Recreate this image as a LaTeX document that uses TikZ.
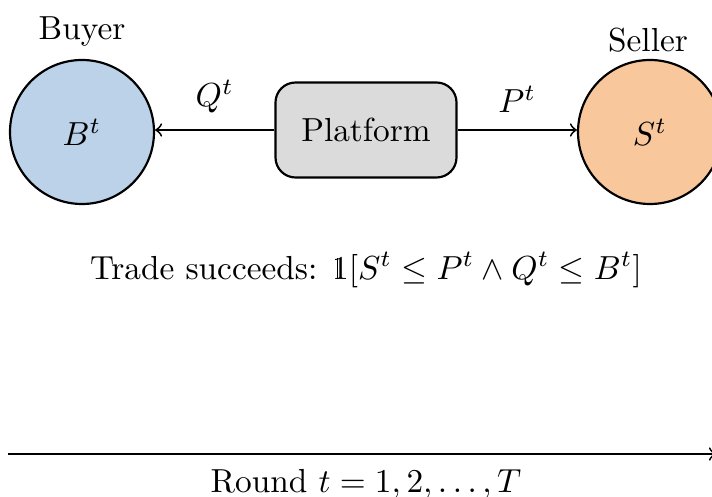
\documentclass[tikz,border=0pt]{standalone}
\usepackage{amsmath,amssymb}
\newcommand{\indone}{\text{\rlap{\kern1.45pt\rule[0pt]{0.4pt}{6.3pt}}1}}
\definecolor{buyerblue}{RGB}{187,210,232}
\definecolor{sellerorange}{RGB}{248,199,156}
\definecolor{platgray}{RGB}{219,219,219}
\tikzset{
  agent/.style={circle, draw=black, line width=0.65pt, minimum size=43.2pt, inner sep=0pt},
  platbox/.style={rectangle, rounded corners=6pt, draw=black, line width=0.65pt, fill=platgray, minimum width=54.3pt, minimum height=28.5pt, inner sep=0pt},
  flow/.style={->, line width=0.55pt},
  lbl/.style={inner sep=0pt}
}
\begin{document}
\begin{tikzpicture}[x=0.3pt, y=-0.3pt]
\useasboundingbox (0,0) rectangle (712,497);
\node[agent, fill=buyerblue] (buyer) at (82,132) {$B^t$};
\node[agent, fill=sellerorange] (seller) at (650,132) {$S^t$};
\node[platbox] (plat) at (366,130) {Platform};
\node[lbl] (buyerlbl) at (82,32) {Buyer};
\node[lbl] (sellerlbl) at (648,40) {Seller};
\draw[flow] (plat.west) -- (buyer.east |- plat.west) node[midway, above=1.5pt] (q) {$Q^t$};
\draw[flow] (plat.east) -- (seller.west |- plat.east) node[midway, above=1.5pt] (p) {$P^t$};
\node[lbl] (trade) at (366,270) {Trade succeeds: $\indone[S^t \le P^t \wedge Q^t \le B^t]$};
\coordinate (tstart) at (8,454);
\coordinate (tend) at (716,454);
\draw[flow] (tstart) -- (tend);
\node[lbl] (round) at (366,484) {Round $t = 1, 2, \ldots, T$};
\end{tikzpicture}
\end{document}
